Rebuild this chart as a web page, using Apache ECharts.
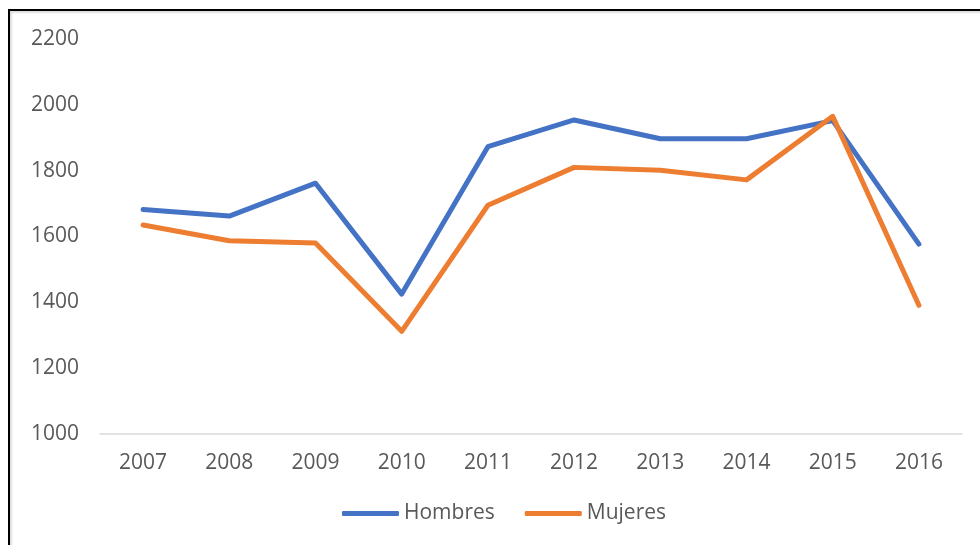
<!DOCTYPE html>
<html>
<head>
<meta charset="utf-8">
<script src="https://cdn.jsdelivr.net/npm/echarts@6/dist/echarts.min.js"></script>
<style>
html,body{margin:0;padding:0;background:#fff;}
#frame{position:absolute;left:8px;top:9px;width:980px;height:545px;border-top:2px solid #000;border-left:2px solid #000;box-shadow:inset 2px 2px 2px #ddd;}
#chart{position:absolute;left:0;top:0;width:980px;height:545px;}
</style>
</head>
<body>
<div id="frame"></div>
<div id="chart"></div>
<script>
const years = ['2007','2008','2009','2010','2011','2012','2013','2014','2015','2016'];
const hombres = [1682, 1662, 1762, 1425, 1873, 1954, 1897, 1897, 1952, 1577];
const mujeres = [1635, 1587, 1580, 1312, 1695, 1810, 1801, 1772, 1965, 1391];
const seriesNames = ['Hombres', 'Mujeres'];

const chart = echarts.init(document.getElementById('chart'), null, {renderer:'canvas'});
const font = 'Open Sans';
chart.setOption({
  backgroundColor: 'transparent',
  animation: false,
  grid: {left: 100, right: 18, top: 39, bottom: 111, containLabel: false},
  legend: {
    data: seriesNames,
    left: 337, top: 498,
    icon: 'roundRect',
    itemWidth: 57, itemHeight: 5,
    itemGap: 30,
    textStyle: {fontFamily: font, fontSize: 21, color: '#595959'}
  },
  xAxis: {
    type: 'category',
    data: years,
    boundaryGap: true,
    axisLine: {lineStyle: {color: '#d9d9d9', width: 1.5}},
    axisTick: {show: false},
    axisLabel: {fontFamily: font, fontSize: 21, color: '#595959', margin: 19}
  },
  yAxis: {
    type: 'value',
    min: 1000, max: 2200, interval: 200,
    axisLine: {show: false},
    axisTick: {show: false},
    splitLine: {show: false},
    axisLabel: {fontFamily: font, fontSize: 21, color: '#595959', margin: 21, formatter: v => String(v)}
  },
  series: [
    {name: seriesNames[0], type: 'line', data: hombres, showSymbol: false, symbol: 'none',
     lineStyle: {color: '#4472C4', width: 5, cap: 'round', join: 'round'}, itemStyle: {color: '#4472C4'}},
    {name: seriesNames[1], type: 'line', data: mujeres, showSymbol: false, symbol: 'none',
     lineStyle: {color: '#ED7D31', width: 5, cap: 'round', join: 'round'}, itemStyle: {color: '#ED7D31'}}
  ]
});
</script>
</body>
</html>
